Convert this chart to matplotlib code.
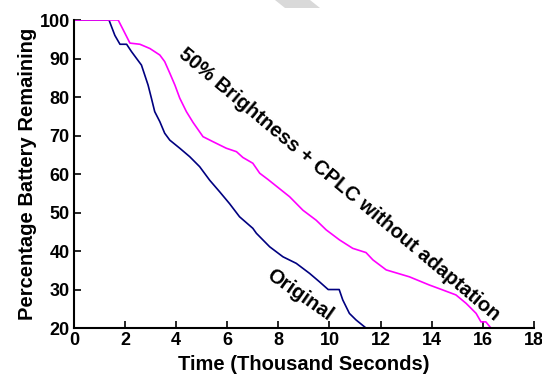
import matplotlib
matplotlib.use("Agg")
from matplotlib import pyplot as plt
from matplotlib.patches import Polygon

plt.rcParams['font.family'] = ['Liberation Sans', 'DejaVu Sans']
plt.rcParams['font.weight'] = 'bold'

# time in thousand seconds, battery remaining in %
originalTime = [0, 1.37, 1.6, 1.8, 2.06, 2.25, 2.45, 2.64, 2.77, 2.9, 3.03, 3.16,
                3.36, 3.55, 3.75, 4.14, 4.53, 4.92, 5.31, 5.70, 6.09, 6.48, 7.0,
                7.14, 7.66, 8.18, 8.7, 9.22, 9.61, 9.95, 10.38, 10.52, 10.78,
                11.04, 11.43]
originalBattery = [100, 100, 96, 93.7, 93.7, 91.8, 90, 88.3, 85.7, 83.1, 79.7, 76.2,
                   73.6, 70.6, 68.8, 66.7, 64.5, 61.9, 58.4, 55.4, 52.3, 48.9, 45.9,
                   44.6, 41.1, 38.5, 36.8, 34.2, 32, 30, 30, 27.3, 23.8,
                   22.1, 20]

cplcTime = [0, 1.73, 1.93, 2.19, 2.58, 2.97, 3.36, 3.55, 3.75, 3.95, 4.14, 4.4,
            4.66, 5.05, 5.44, 5.96, 6.36, 6.61, 7.0, 7.27, 7.59, 8.44, 8.96,
            9.48, 9.87, 10.39, 10.91, 11.43, 11.7, 12.22, 13.13, 13.9, 14.43,
            14.95, 15.35, 15.74, 15.93, 16.12, 16.32]
cplcBattery = [100, 100, 97.4, 94, 93.7, 92.6, 90.9, 89.2, 86.2, 83.1, 79.7, 76.2,
               73.4, 69.7, 68.4, 66.7, 65.8, 64.3, 62.8, 60.2, 58.6, 54.1, 50.6,
               48, 45.5, 42.9, 40.7, 39.6, 37.7, 35.1, 33.3, 31.2, 29.9,
               28.6, 26.4, 23.8, 21.6, 21.6, 20]

fig = plt.figure(figsize=(5.42, 3.81), dpi=100)
ax = fig.add_axes([0.1365, 0.139, 0.8485, 0.8085])

ax.plot(originalTime, originalBattery, color="#000080", linewidth=1.2)
ax.plot(cplcTime, cplcBattery, color="#ff00ff", linewidth=1.2)

ax.set_xlim(0, 18)
ax.set_ylim(20, 100)
ax.set_xticks(range(0, 19, 2))
ax.set_yticks(range(20, 101, 10))
ax.spines['top'].set_visible(False)
ax.spines['right'].set_visible(False)
ax.spines['left'].set_linewidth(1.5)
ax.spines['bottom'].set_linewidth(1.5)
ax.tick_params(direction='in', length=5, width=1.2, labelsize=13, pad=3)

ax.set_xlabel("Time (Thousand Seconds)", fontsize=14.5, fontweight='bold', labelpad=4)
ax.set_ylabel("Percentage Battery Remaining", fontsize=14.5, fontweight='bold', labelpad=2)

ax.text(10.4, 57.2, "50% Brightness + CPLC without adaptation", fontsize=14.5,
        fontweight='bold', rotation=-40, rotation_mode='anchor',
        ha='center', va='center')
ax.text(8.85, 28.6, "Original", fontsize=14.5, fontweight='bold', rotation=-35,
        rotation_mode='anchor', ha='center', va='center')

# faint watermark band at the top
W, H = 542.0, 381.0
band = [(275 / W, 1), (310 / W, 1), (320 / W, 1 - 8 / H), (285 / W, 1 - 8 / H)]
fig.patches.append(Polygon(band, closed=True, transform=fig.transFigure,
                           facecolor="#d9d9d9", edgecolor='none'))

fig.savefig("out.png", dpi=100)
